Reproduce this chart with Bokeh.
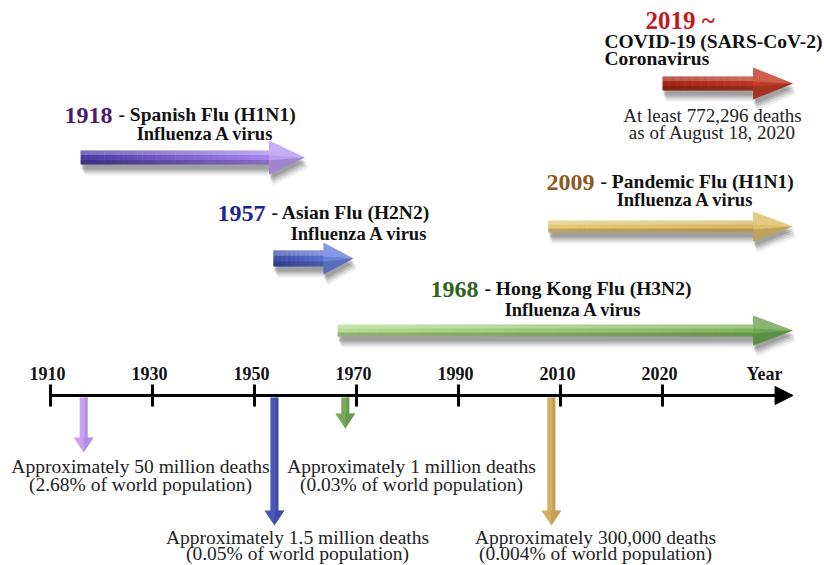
import numpy as np
from bokeh.plotting import figure
from bokeh.models import Range1d
from bokeh.core.properties import value
from bokeh.embed import file_html
from bokeh.resources import INLINE

# ---------------- data ----------------
tick_labels = ["1910", "1930", "1950", "1970", "1990", "2010", "2020"]
tick_years = [1910, 1930, 1950, 1970, 1990, 2010, 2020]
axis_title = "Year"

event_years = ["1918", "1957", "1968", "2009", "2019 ~"]
event_names = ["Spanish Flu (H1N1)", "Asian Flu (H2N2)", "Hong Kong Flu (H3N2)",
               "Pandemic Flu (H1N1)", "COVID-19 (SARS-CoV-2)"]
event_virus = ["Influenza A virus", "Influenza A virus", "Influenza A virus",
               "Influenza A virus", "Coronavirus"]
# extent of each horizontal arrow, read on the timeline's scale
span_start = [1915.9, 1953.7, 1966.3, 2007.6, 2020.0]
span_end = [1959.9, 1969.4, 2032.8, 2032.8, 2032.8]
# positions of the downward markers on the timeline
marker_year = [1916.5, 1953.9, 1967.8, 2008.2]
death_text = ["Approximately 50 million deaths", "Approximately 1.5 million deaths",
              "Approximately 1 million deaths", "Approximately 300,000 deaths"]
share_text = ["(2.68% of world population)", "(0.05% of world population)",
              "(0.03% of world population)", "(0.004% of world population)"]
covid_note = ["At least 772,296 deaths", "as of August 18, 2020"]

# ---------------- scale helpers ----------------
ext_years = tick_years + [2030, 2040]
ext_idx = list(range(len(ext_years)))


def yx(yr):
    return float(np.interp(yr, ext_years, ext_idx))


PX = 1.0 / 102.0  # x units per pixel
X0 = 50           # pixel where the first tick sits
FONT = value("Liberation Serif")


def px(v):
    return (v - X0) * PX


W, H = 824, 565
p = figure(width=W, height=H, x_range=Range1d(px(0), px(W)),
           y_range=Range1d(H, 0), output_backend="svg", toolbar_location=None,
           min_border=0)
p.axis.visible = False
p.grid.visible = False
p.outline_line_color = None
p.background_fill_color = "white"
p.border_fill_color = "white"


def hexmix(c1, c2, t):
    a = [int(c1[i:i + 2], 16) for i in (1, 3, 5)]
    b = [int(c2[i:i + 2], 16) for i in (1, 3, 5)]
    return "#%02x%02x%02x" % tuple(int(round(a[k] + (b[k] - a[k]) * t)) for k in range(3))


# ---------------- horizontal arrows ----------------
arr_yc = [157, 258, 330, 226, 83]
arr_s = [7, 8, 6, 6, 7]
arr_H = [17, 16, 15, 15, 16]
arr_L = [36, 30, 40, 40, 40]
arr_c0 = ["#4a3aa2", "#3a4aa6", "#b6da92", "#e6c97c", "#a42414"]
arr_c1 = ["#a886ee", "#5b72d2", "#7fb45e", "#d8b664", "#bb3422"]
arr_head = ["#bb9cf3", "#6a83dc", "#6ea752", "#e0bf6c", "#c23a26"]


def arrow_poly(x0, x1, yc, s, Hh, L, dx=0.0, dy=0.0):
    xl = x1 - L * PX
    xs = [x0, xl, xl, x1, xl, xl, x0]
    ys = [yc - s, yc - s, yc - Hh, yc, yc + Hh, yc + s, yc + s]
    return [v + dx * PX for v in xs], [v + dy for v in ys]


for i in range(5):
    x0, x1 = yx(span_start[i]), yx(span_end[i])
    yc, s, Hh, L = arr_yc[i], arr_s[i], arr_H[i], arr_L[i]
    # soft shadow
    for dx, dy, a in [(4, 10, 0.07), (3, 8, 0.11), (2, 6, 0.15), (1, 4, 0.17)]:
        sx, sy = arrow_poly(x0, x1, yc, s + 1, Hh + 1, L, dx, dy)
        p.patch(sx, sy, fill_color="#202020", fill_alpha=a, line_color=None)
    # gradient shaft
    xl = x1 - L * PX
    n = 40
    edges = np.linspace(x0, xl + 1 * PX, n + 1)
    cols = [hexmix(arr_c0[i], arr_c1[i], k / (n - 1)) for k in range(n)]
    p.quad(left=edges[:-1], right=edges[1:] + 0.4 * PX, top=[yc - s] * n,
           bottom=[yc + s] * n, fill_color=cols, line_color=None)
    # head
    p.patch([xl, x1, xl], [yc - Hh, yc, yc + Hh], fill_color=arr_head[i],
            line_color=None)
    # 3D highlights
    p.quad(left=[x0], right=[xl], top=[yc - s], bottom=[yc - s * 0.35],
           fill_color="white", fill_alpha=0.25, line_color=None)
    p.quad(left=[x0], right=[xl], top=[yc + s * 0.35], bottom=[yc + s],
           fill_color="black", fill_alpha=0.18, line_color=None)
    p.patch([xl, x1, xl], [yc - Hh, yc, yc - 2], fill_color="white",
            fill_alpha=0.18, line_color=None)
    p.patch([xl, x1, xl], [yc + 3, yc, yc + Hh], fill_color="black",
            fill_alpha=0.15, line_color=None)

# ---------------- event titles ----------------
yr_colors = ["#4b1c6e", "#1c2494", "#2f6420", "#8b5a22", "#c8161e"]
yr_right = [112, 265, 478, 594]
yr_base = [115, 213, 289, 182, 20]
title_base = [114, 212, 288, 181, 41]
virus_cx = [205, 359, 573, 685]
virus_base = [133, 233, 309, 199, 58]

for i in range(4):
    p.text(x=[px(yr_right[i])], y=[yr_base[i]], text=[event_years[i]],
           text_font=FONT, text_font_style="bold", text_font_size="24px",
           text_color=yr_colors[i], text_align="right", text_baseline="alphabetic")
    p.text(x=[px(yr_right[i] + 6)], y=[title_base[i]],
           text=["- " + event_names[i]], text_font=FONT, text_font_style="bold",
           text_font_size="19.5px", text_color="#111111", text_align="left",
           text_baseline="alphabetic")
    p.text(x=[px(virus_cx[i])], y=[virus_base[i]], text=[event_virus[i]],
           text_font=FONT, text_font_style="bold", text_font_size="18.5px",
           text_color="#111111", text_align="center", text_baseline="alphabetic")

# COVID block
p.text(x=[px(645)], y=[yr_base[4]], text=[event_years[4]], text_font=FONT,
       text_font_style="bold", text_font_size="25px", text_color=yr_colors[4],
       text_align="left", text_baseline="alphabetic")
p.text(x=[px(604)], y=[title_base[4]], text=[event_names[4]], text_font=FONT,
       text_font_style="bold", text_font_size="19.5px", text_color="#111111",
       text_align="left", text_baseline="alphabetic")
p.text(x=[px(604)], y=[virus_base[4]], text=[event_virus[4]], text_font=FONT,
       text_font_style="bold", text_font_size="19.5px", text_color="#111111",
       text_align="left", text_baseline="alphabetic")
p.text(x=[px(712)] * 2, y=[115, 132], text=covid_note, text_font=FONT,
       text_font_size="19px", text_color="#222222", text_align="center",
       text_baseline="alphabetic")

# ---------------- timeline ----------------
AX_Y = 395
tick_x = [yx(y) for y in tick_years]
p.segment(x0=[tick_x[0]], y0=[AX_Y], x1=[yx(2032.0)], y1=[AX_Y], line_color="black",
          line_width=3)
tip = yx(2032.8)
p.patch([tip - 18 * PX, tip, tip - 18 * PX], [AX_Y - 9, AX_Y, AX_Y + 9],
        fill_color="black", line_color="black")
p.segment(x0=tick_x, y0=[AX_Y - 11] * len(tick_x), x1=tick_x,
          y1=[AX_Y + 11] * len(tick_x), line_color="black", line_width=3)
p.text(x=[v - 3 * PX for v in tick_x], y=[373] * len(tick_x), text=tick_labels,
       text_font=FONT, text_font_style="bold", text_font_size="18px",
       text_color="#111111", text_align="center", text_baseline="alphabetic")
p.text(x=[yx(2030)], y=[373], text=[axis_title], text_font=FONT,
       text_font_style="bold", text_font_size="18px", text_color="#111111",
       text_align="center", text_baseline="alphabetic")

# ---------------- downward markers ----------------
mk_tip = [452, 525, 428, 525]
mk_c = ["#c9a2f2", "#4a56b8", "#78a95a", "#d4b062"]
mk_dark = ["#a57ee0", "#3a459c", "#5e8c44", "#b99548"]
for i in range(4):
    mx = yx(marker_year[i])
    t = mk_tip[i]
    p.quad(left=[mx - 4 * PX], right=[mx + 4 * PX], top=[AX_Y + 2], bottom=[t - 14],
           fill_color=mk_c[i], line_color=None)
    p.quad(left=[mx + 1 * PX], right=[mx + 4 * PX], top=[AX_Y + 2], bottom=[t - 14],
           fill_color=mk_dark[i], fill_alpha=0.6, line_color=None)
    p.patch([mx - 10 * PX, mx + 10 * PX, mx], [t - 15, t - 15, t],
            fill_color=mk_c[i], line_color=None)
    p.patch([mx, mx + 10 * PX, mx], [t - 15, t - 15, t],
            fill_color=mk_dark[i], fill_alpha=0.6, line_color=None)

# death annotations
d_cx = [140, 297, 411, 595]
d_base1 = [466, 537, 466, 537]
d_base2 = [484, 553, 484, 553]
for i in range(4):
    p.text(x=[px(d_cx[i])] * 2, y=[d_base1[i], d_base2[i]],
           text=[death_text[i], share_text[i]], text_font=FONT,
           text_font_size="19.5px", text_color="#222222", text_align="center",
           text_baseline="alphabetic")

open("out.html", "w").write(file_html(p, INLINE))
